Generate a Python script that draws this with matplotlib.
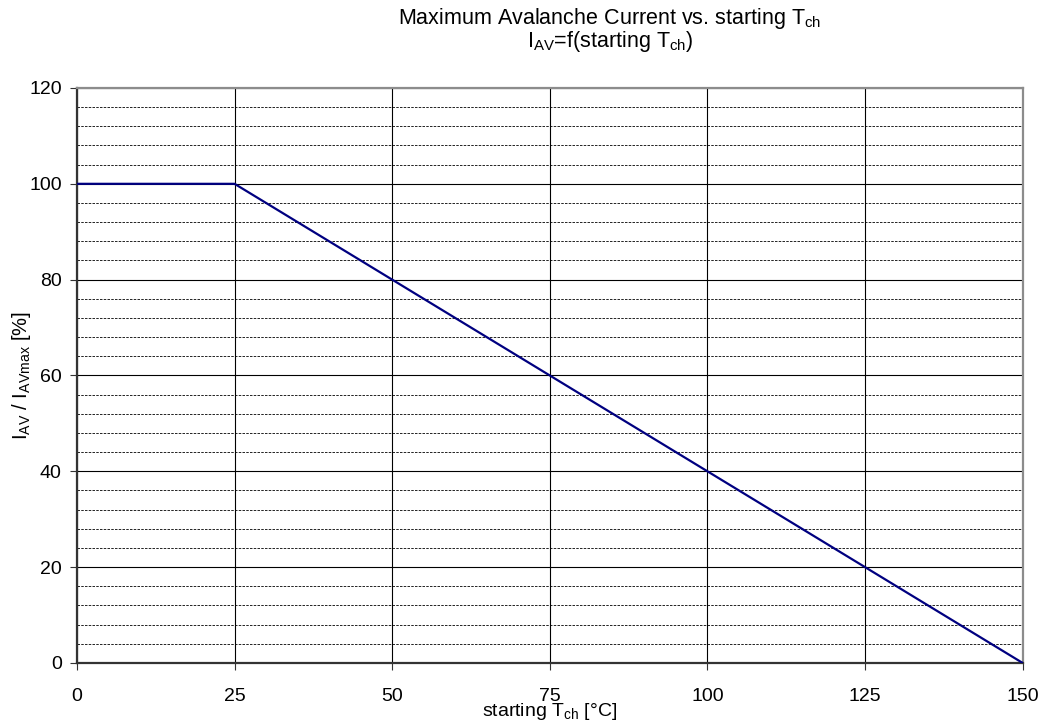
import numpy as np
import matplotlib.pyplot as plt
from matplotlib.ticker import MultipleLocator

plt.rcParams['font.family'] = ['Liberation Sans', 'DejaVu Sans']
plt.rcParams['mathtext.fontset'] = 'custom'
plt.rcParams['mathtext.rm'] = 'Liberation Sans'
plt.rcParams['mathtext.default'] = 'regular'

# data
t_ch = [0, 25, 150]
i_av = [100, 100, 0]

x_ticks = [0, 25, 50, 75, 100, 125, 150]
y_ticks = [0, 20, 40, 60, 80, 100, 120]

fig = plt.figure(figsize=(10.5, 7.26), dpi=100)
ax = fig.add_axes([0.0733, 0.0868, 0.9007, 0.792])

ax.plot(t_ch, i_av, color='#000080', lw=1.6, zorder=3)

ax.set_xlim(0, 150)
ax.set_ylim(0, 120)
ax.set_xticks(x_ticks)
ax.set_yticks(y_ticks)
ax.yaxis.set_minor_locator(MultipleLocator(4))
ax.grid(True, which='major', color='black', lw=0.8)
ax.grid(True, which='minor', axis='y', color='black', lw=0.6, ls=(0, (3, 1.5)))
ax.tick_params(which='minor', length=0)
ax.tick_params(which='major', direction='out', length=5, labelsize=14, color='#333333')
ax.tick_params(axis='x', pad=13)
ax.tick_params(axis='y', pad=6)

for s in ['top', 'right']:
    ax.spines[s].set_color('#8c8c8c')
    ax.spines[s].set_linewidth(1.6)
for s in ['left', 'bottom']:
    ax.spines[s].set_color('#333333')
    ax.spines[s].set_linewidth(1.6)

ax.set_xlabel(r'starting T$_{ch}$ [°C]', fontsize=14)
ax.xaxis.set_label_coords(0.5, -0.066)
ax.set_ylabel(r'I$_{AV}$ / I$_{AVmax}$ [%]', fontsize=14.5)
ax.yaxis.set_label_coords(-0.046, 0.5)

# title sits right of the axes centre in the original
fig.text(0.581, 0.975, 'Maximum Avalanche Current vs. starting T$_{ch}$',
         fontsize=15.5, ha='center', va='center')
fig.text(0.581, 0.943, 'I$_{AV}$=f(starting T$_{ch}$)',
         fontsize=15.5, ha='center', va='center')

fig.savefig('out.png', dpi=100)
